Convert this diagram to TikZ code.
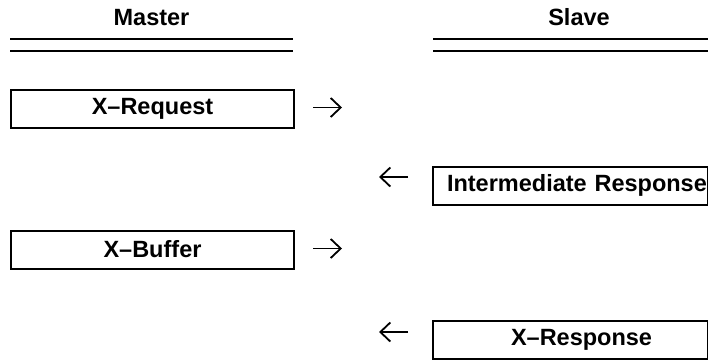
\documentclass[tikz,border=0pt]{standalone}
\usepackage{fontspec}
\setmainfont{Liberation Sans}
\usetikzlibrary{arrows.meta}
\begin{document}
\begin{tikzpicture}[x=1pt,y=-1pt,
  lbl/.style={font=\fontsize{23.5}{27}\selectfont\bfseries, inner sep=0pt, anchor=base},
  msgbox/.style={draw, line width=2pt, minimum height=38pt, inner sep=0pt,
    font=\fontsize{23.5}{27}\selectfont\bfseries, anchor=north west},
  rule/.style={line width=2pt},
  flow/.style={line width=1.8pt, -{Straight Barb[length=10pt,width=19pt,line width=1.8pt]}}]
\useasboundingbox (0,0) rectangle (708,360);
% headers
\node[lbl] (master) at (151.5,25) {Master};
\node[lbl] (slave) at (579,25) {Slave};
\coordinate (ml1a) at (10,38.5); \coordinate (ml1b) at (293,38.5);
\coordinate (ml2a) at (10,50.5); \coordinate (ml2b) at (293,50.5);
\coordinate (sl1a) at (433,38.5); \coordinate (sl1b) at (708,38.5);
\coordinate (sl2a) at (433,50.5); \coordinate (sl2b) at (708,50.5);
\draw[rule] (ml1a) -- (ml1b);
\draw[rule] (ml2a) -- (ml2b);
\draw[rule] (sl1a) -- (sl1b);
\draw[rule] (sl2a) -- (sl2b);
% boxes
\node[msgbox, minimum width=283pt] (req) at (10,88.5) {X--Request};
\node[msgbox, minimum width=283pt] (buf) at (10,229.5) {X--Buffer};
\node[msgbox, minimum width=275pt, text width=275pt, align=left] (inter) at (432,165.5) {\hspace*{14pt}Intermediate Response};
\node[msgbox, minimum width=275pt, text width=275pt, align=left] (resp) at (432,320) {\hspace*{78pt}X--Response};
% arrows
\coordinate (a1s) at (313,107.5); \coordinate (a1e) at (342,107.5);
\coordinate (a2s) at (313,248.5); \coordinate (a2e) at (342,248.5);
\coordinate (a3s) at (408,177); \coordinate (a3e) at (379,177);
\coordinate (a4s) at (408,332); \coordinate (a4e) at (379,332);
\draw[flow] (a1s) -- (a1e);
\draw[flow] (a2s) -- (a2e);
\draw[flow] (a3s) -- (a3e);
\draw[flow] (a4s) -- (a4e);
\end{tikzpicture}
\end{document}
